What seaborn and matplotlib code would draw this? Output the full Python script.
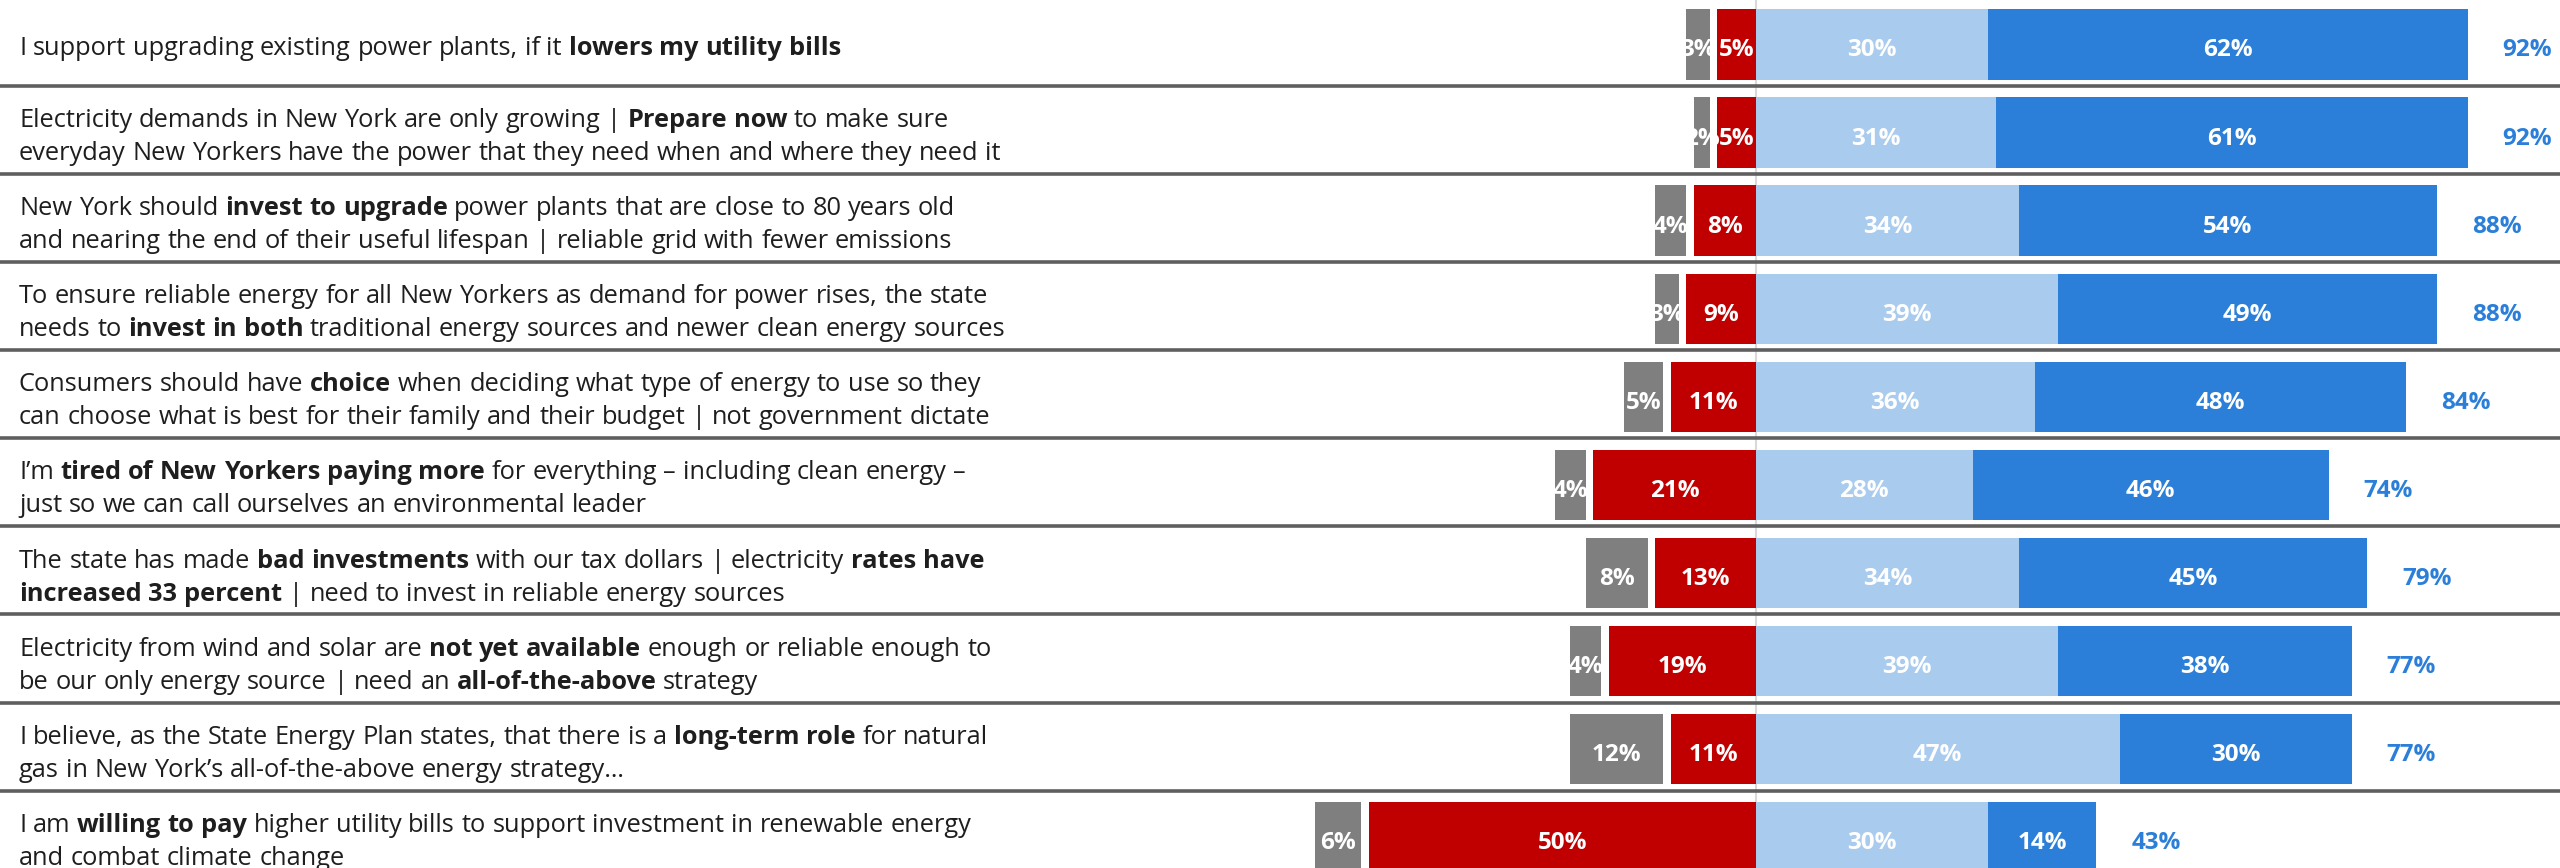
import matplotlib
matplotlib.use("Agg")
import matplotlib.pyplot as plt
import matplotlib.transforms as mtransforms
import pandas as pd
import seaborn as sns

# statements, **bold** parts, \n = line break
statements = [
    "I support upgrading existing power plants, if it **lowers my utility bills**",
    "Electricity demands in New York are only growing | **Prepare now** to make sure\n"
    "everyday New Yorkers have the power that they need when and where they need it",
    "New York should **invest to upgrade** power plants that are close to 80 years old\n"
    "and nearing the end of their useful lifespan | reliable grid with fewer emissions",
    "To ensure reliable energy for all New Yorkers as demand for power rises, the state\n"
    "needs to **invest in both** traditional energy sources and newer clean energy sources",
    "Consumers should have **choice** when deciding what type of energy to use so they\n"
    "can choose what is best for their family and their budget | not government dictate",
    "I\u2019m **tired of New Yorkers paying more** for everything \u2013 including clean energy \u2013\n"
    "just so we can call ourselves an environmental leader",
    "The state has made **bad investments** with our tax dollars | electricity **rates have\n"
    "increased 33 percent** | need to invest in reliable energy sources",
    "Electricity from wind and solar are **not yet available** enough or reliable enough to\n"
    "be our only energy source | need an **all-of-the-above** strategy",
    "I believe, as the State Energy Plan states, that there is a **long-term role** for natural\n"
    "gas in New York\u2019s all-of-the-above energy strategy\u2026",
    "I am **willing to pay** higher utility bills to support investment in renewable energy\n"
    "and combat climate change",
]
dont_know = [3, 2, 4, 3, 5, 4, 8, 4, 12, 6]
oppose = [5, 5, 8, 9, 11, 21, 13, 19, 11, 50]
somewhat_support = [30, 31, 34, 39, 36, 28, 34, 39, 47, 30]
strongly_support = [62, 61, 54, 49, 48, 46, 45, 38, 30, 14]
total_support = [92, 92, 88, 88, 84, 74, 79, 77, 77, 43]

GRAY = "#7f7f7f"
RED = "#c00000"
LIGHT = "#a9cbee"
DARK = "#2b7fd8"
TEXT = "#1e1e1e"
GAP = 1  # white gap between "don't know" and oppose bars (in %)

sns.set_style("white")
plt.rcParams["font.family"] = ["Open Sans", "DejaVu Sans"]

df = pd.DataFrame({
    "row": [str(i) for i in range(len(statements))],
    "dk": dont_know, "opp": oppose,
    "some": somewhat_support, "strong": strongly_support,
})
df["dk_ext"] = -(df["opp"] + GAP + df["dk"])
df["gap_ext"] = -(df["opp"] + GAP)
df["opp_neg"] = -df["opp"]
df["pos"] = df["some"] + df["strong"]
order = list(df["row"])

fig = plt.figure(figsize=(25.6, 8.68), dpi=100)
ax = fig.add_axes([0, 0, 1, 1])

# stacked layers drawn back to front
layers = [("dk_ext", GRAY), ("gap_ext", "white"), ("opp_neg", RED),
          ("pos", DARK), ("some", LIGHT)]
for col, c in layers:
    sns.barplot(data=df, x=col, y="row", order=order, orient="h", color=c,
                saturation=1, width=0.8, errorbar=None, linewidth=0, ax=ax)

ax.set_xlim(-226.9, 103.9)
ax.set_ylim(9.348, -0.5045)
ax.axis("off")

n = len(statements)
ax.axvline(0, color="#d9d9d9", lw=1.5, zorder=0)
for k in range(n - 1):
    ax.axhline(k + 0.47, color="#5f5f5f", lw=2.6, zorder=4)

px_row = 868 / (9.348 + 0.5045)
lab_off = 12 / px_row  # baseline offset for bar labels
lab_kw = dict(color="white", fontsize=17.5, fontweight="bold", ha="center", va="baseline", zorder=5)
for i in range(n):
    y = i + lab_off
    ax.text(-(oppose[i] + GAP + dont_know[i] / 2), y, f"{dont_know[i]}%", **lab_kw)
    ax.text(-oppose[i] / 2, y, f"{oppose[i]}%", **lab_kw)
    ax.text(somewhat_support[i] / 2, y, f"{somewhat_support[i]}%", **lab_kw)
    ax.text(somewhat_support[i] + strongly_support[i] / 2, y, f"{strongly_support[i]}%", **lab_kw)
    ax.text(somewhat_support[i] + strongly_support[i] + 4.5, y, f"{total_support[i]}%",
            color=DARK, fontsize=17.5, fontweight="bold", ha="left", va="baseline", zorder=5)


# rich text statements, drawn word by word
def parse(text):
    lines = [[]]
    for j, part in enumerate(text.split("**")):
        for k, sub in enumerate(part.split("\n")):
            if k > 0:
                lines.append([])
            lines[-1] += [(w, j % 2 == 1) for w in sub.split()]
    return lines


renderer = fig.canvas.get_renderer()
ident = mtransforms.IdentityTransform()
FS = 18.3
LINE = 33
CAP = 18


def word_width(s, bold):
    t = fig.text(0, 0, s, fontsize=FS, fontweight="bold" if bold else "normal", transform=ident)
    w = t.get_window_extent(renderer).width
    t.remove()
    return w


space = {b: word_width("a a", b) - word_width("aa", b) for b in (False, True)}

for i, text in enumerate(statements):
    lines = parse(text)
    cy = ax.transData.transform((0, i))[1] - 2
    for li, words in enumerate(lines):
        base = cy - (li - (len(lines) - 1) / 2) * LINE - CAP / 2
        x = 19
        for w, b in words:
            t = fig.text(x, base, w, fontsize=FS, fontweight="bold" if b else "normal",
                         color=TEXT, va="baseline", ha="left", transform=ident)
            x = t.get_window_extent(renderer).x1 + space[b]

fig.savefig("out.png", dpi=100, facecolor="white")
